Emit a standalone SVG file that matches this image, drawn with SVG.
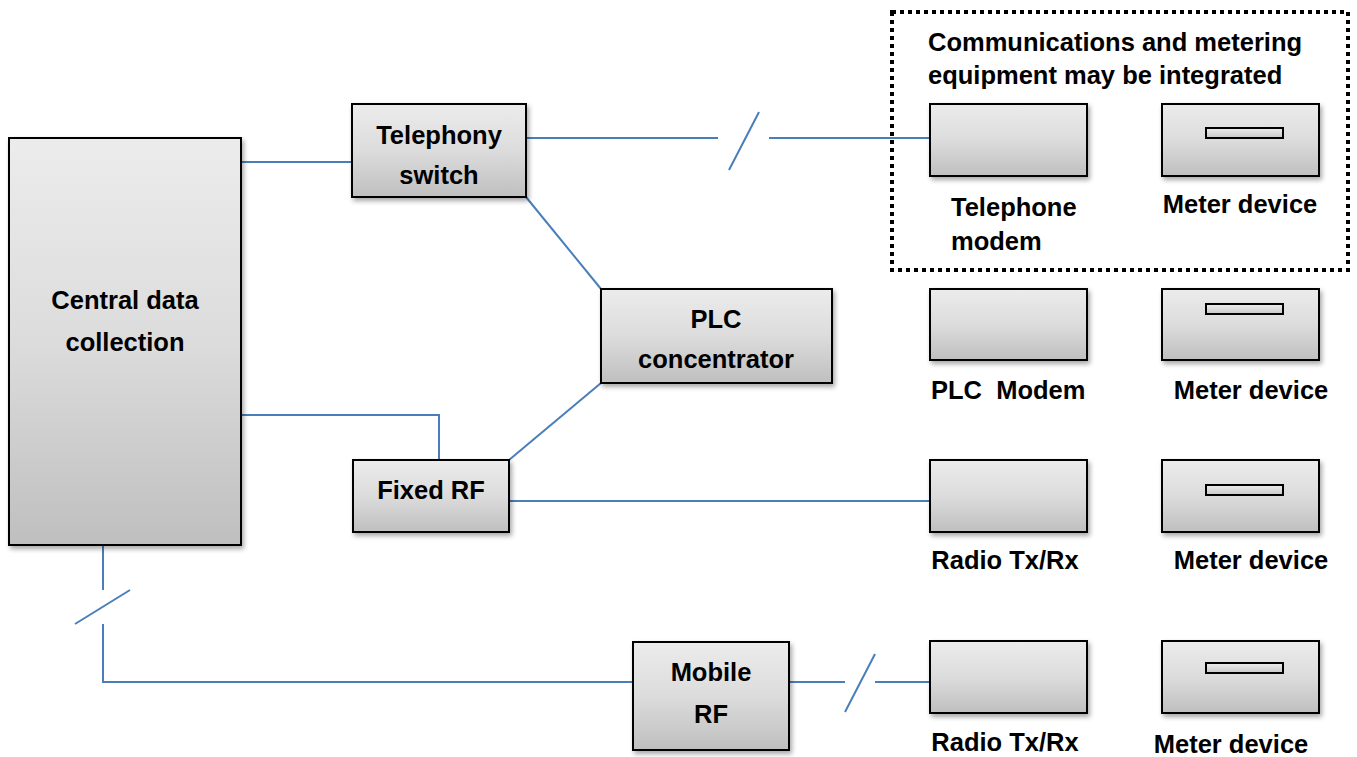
<svg xmlns="http://www.w3.org/2000/svg" width="1357" height="757" viewBox="0 0 1357 757">
  <style>
    .box { fill: url(#boxFill); stroke: #000; stroke-width: 2; filter: url(#shadow); }
    .bar { fill: url(#barFill); stroke: #000; stroke-width: 2; }
    .link { fill: none; stroke: #4a7ebb; stroke-width: 2; }
    .lbl { font-family: "Liberation Sans", Arial, sans-serif; font-weight: bold; font-size: 25.5px; fill: #000; }
    .mid { text-anchor: middle; }
    .frame { fill: none; stroke: #000; stroke-width: 4; stroke-dasharray: 4 4; }
  </style>
  <defs>
    <linearGradient id="boxFill" x1="0" y1="0" x2="0" y2="1">
      <stop offset="0" stop-color="#ececec"/>
      <stop offset="0.5" stop-color="#dcdcdc"/>
      <stop offset="1" stop-color="#bfbfbf"/>
    </linearGradient>
    <linearGradient id="barFill" x1="0" y1="0" x2="0" y2="1">
      <stop offset="0" stop-color="#eeeeee"/>
      <stop offset="1" stop-color="#c8c8c8"/>
    </linearGradient>
    <filter id="shadow" x="-10%" y="-10%" width="130%" height="130%">
      <feGaussianBlur in="SourceAlpha" stdDeviation="2.5"/>
      <feOffset dx="2" dy="3" result="b"/>
      <feComponentTransfer><feFuncA type="linear" slope="0.35"/></feComponentTransfer>
      <feMerge><feMergeNode/><feMergeNode in="SourceGraphic"/></feMerge>
    </filter>
  </defs>

  <!-- connectors -->
  <g id="connectors">
    <path class="link" d="M241 162 H352"/>
    <path class="link" d="M526 138 H718 M729 170 L759 112 M769 138 H930"/>
    <path class="link" d="M526 197 L601 289"/>
    <path class="link" d="M601 383 L509 460"/>
    <path class="link" d="M241 415 H439 V460"/>
    <path class="link" d="M509 501 H930"/>
    <path class="link" d="M103 545 V590 M75 624 L130 590 M103 624 V682 H633"/>
    <path class="link" d="M789 682 H845 M845 712 L875 654 M875 682 H930"/>
  </g>

  <!-- integration boundary -->
  <g id="integration-frame">
    <rect class="frame" x="892" y="12" width="456" height="258"/>
    <text class="lbl" x="928" y="51">Communications and metering</text>
    <text class="lbl" x="928" y="84">equipment may be integrated</text>
  </g>

  <g id="central-data-collection">
    <rect class="box" x="9" y="138" width="232" height="407"/>
    <text class="lbl mid" x="125" y="309">Central data</text>
    <text class="lbl mid" x="125" y="351">collection</text>
  </g>

  <g id="telephony-switch">
    <rect class="box" x="352" y="104" width="174" height="93"/>
    <text class="lbl mid" x="439" y="144">Telephony</text>
    <text class="lbl mid" x="439" y="184">switch</text>
  </g>

  <g id="plc-concentrator">
    <rect class="box" x="601" y="289" width="231" height="94"/>
    <text class="lbl mid" x="716" y="328">PLC</text>
    <text class="lbl mid" x="716" y="368">concentrator</text>
  </g>

  <g id="fixed-rf">
    <rect class="box" x="353" y="460" width="156" height="72"/>
    <text class="lbl mid" x="431" y="499">Fixed RF</text>
  </g>

  <g id="mobile-rf">
    <rect class="box" x="633" y="642" width="156" height="108"/>
    <text class="lbl mid" x="711" y="681">Mobile</text>
    <text class="lbl mid" x="711" y="723">RF</text>
  </g>

  <g id="telephone-modem">
    <rect class="box" x="930" y="104" width="157" height="72"/>
    <text class="lbl" x="951" y="216">Telephone</text>
    <text class="lbl" x="951" y="250">modem</text>
  </g>

  <g id="meter-device-1">
    <rect class="box" x="1162" y="104" width="157" height="72"/>
    <rect class="bar" x="1206" y="128" width="77" height="10"/>
    <text class="lbl mid" x="1240" y="213">Meter device</text>
  </g>

  <g id="plc-modem">
    <rect class="box" x="930" y="289" width="157" height="71"/>
    <text class="lbl" x="931" y="399" xml:space="preserve">PLC  Modem</text>
  </g>

  <g id="meter-device-2">
    <rect class="box" x="1162" y="289" width="157" height="71"/>
    <rect class="bar" x="1206" y="304" width="77" height="10"/>
    <text class="lbl mid" x="1251" y="399">Meter device</text>
  </g>

  <g id="radio-txrx-1">
    <rect class="box" x="930" y="460" width="157" height="72"/>
    <text class="lbl mid" x="1005" y="569">Radio Tx/Rx</text>
  </g>

  <g id="meter-device-3">
    <rect class="box" x="1162" y="460" width="157" height="72"/>
    <rect class="bar" x="1206" y="485" width="77" height="10"/>
    <text class="lbl mid" x="1251" y="569">Meter device</text>
  </g>

  <g id="radio-txrx-2">
    <rect class="box" x="930" y="641" width="157" height="72"/>
    <text class="lbl mid" x="1005" y="751">Radio Tx/Rx</text>
  </g>

  <g id="meter-device-4">
    <rect class="box" x="1162" y="641" width="157" height="72"/>
    <rect class="bar" x="1206" y="663" width="77" height="10"/>
    <text class="lbl mid" x="1231" y="753">Meter device</text>
  </g>
</svg>
